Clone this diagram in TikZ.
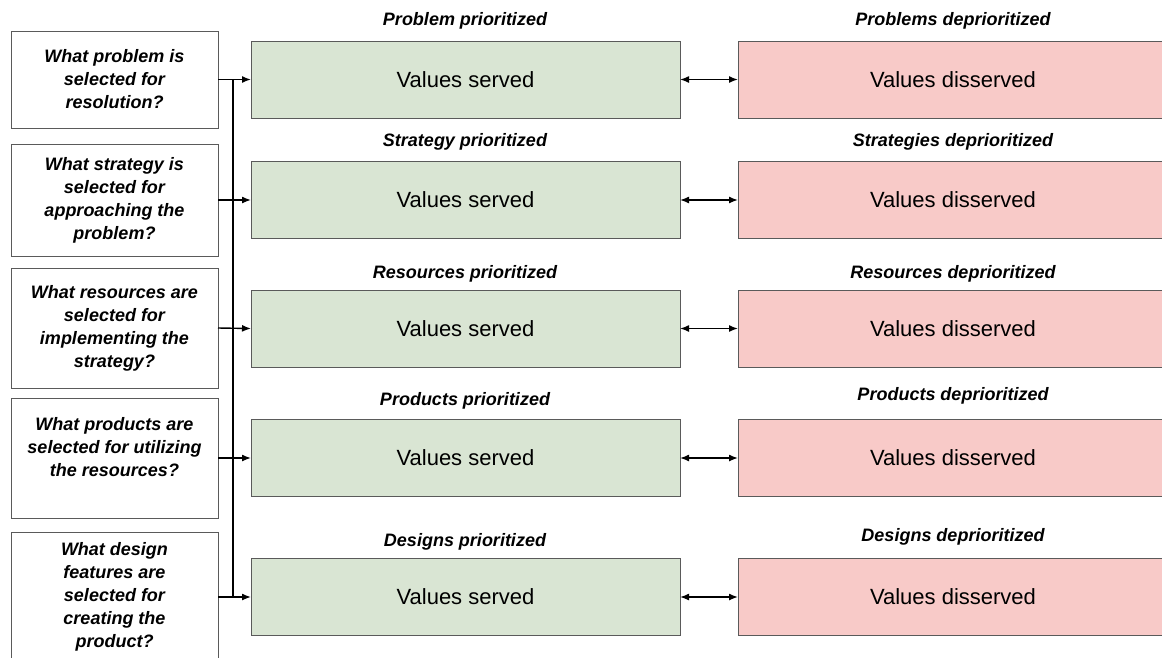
\documentclass[tikz,border=0pt]{standalone}
\usepackage{fontspec}
\setmainfont{Liberation Sans}
\usetikzlibrary{arrows.meta}
\definecolor{gfill}{HTML}{D9E5D3}
\definecolor{pfill}{HTML}{F8CAC8}
\definecolor{bord}{HTML}{5A5A5A}
\tikzset{
  qbox/.style={draw=bord, line width=0.9pt, fill=white, minimum width=207pt, inner sep=0pt, outer sep=0pt, align=center, font=\fontsize{18}{23}\selectfont\bfseries\itshape},
  gbox/.style={draw=bord, line width=0.9pt, fill=gfill, minimum width=429pt, minimum height=77pt, inner sep=0pt, outer sep=0pt, font=\fontsize{22}{26}\selectfont},
  pbox/.style={draw=bord, line width=0.9pt, fill=pfill, minimum width=430pt, minimum height=77pt, inner sep=0pt, outer sep=0pt, font=\fontsize{22}{26}\selectfont},
  ttl/.style={inner sep=0pt, font=\fontsize{18}{22}\selectfont\bfseries\itshape},
  conn/.style={line width=1.4pt, -{Latex[length=9pt,width=7pt]}},
  dconn/.style={line width=1.4pt, {Latex[length=9pt,width=7pt]}-{Latex[length=9pt,width=7pt]}},
  trunk/.style={line width=1.4pt}
}
\begin{document}
\begin{tikzpicture}[x=1pt,y=-1pt]
\useasboundingbox[fill=white] (0,0) rectangle (1162,657);
% question boxes
\node[qbox, minimum height=97pt] (q1) at (114.5,79.5) {What problem is\\selected for\\resolution?};
\node[qbox, minimum height=112pt] (q2) at (114.5,200) {What strategy is\\selected for\\approaching the\\problem?};
\node[qbox, minimum height=120pt] (q3) at (114.5,328) {What resources are\\selected for\\implementing the\\strategy?};
\node[qbox, minimum height=120pt] (q4) at (114.5,458) {What products are\\selected for utilizing\\the resources?\\\mbox{}};
\node[qbox, minimum height=130pt] (q5) at (114.5,597) {What design\\features are\\selected for\\creating the\\product?};
% green boxes
\node[gbox] (g1) at (465.5,79.5) {Values served};
\node[gbox] (g2) at (465.5,200) {Values served};
\node[gbox] (g3) at (465.5,328.5) {Values served};
\node[gbox] (g4) at (465.5,458) {Values served};
\node[gbox] (g5) at (465.5,597) {Values served};
% pink boxes
\node[pbox] (p1) at (953,79.5) {Values disserved};
\node[pbox] (p2) at (953,200) {Values disserved};
\node[pbox] (p3) at (953,328.5) {Values disserved};
\node[pbox] (p4) at (953,458) {Values disserved};
\node[pbox] (p5) at (953,597) {Values disserved};
% titles
\node[ttl] (tg1) at (465,21) {Problem prioritized};
\node[ttl] (tg2) at (465,142) {Strategy prioritized};
\node[ttl] (tg3) at (465,274) {Resources prioritized};
\node[ttl] (tg4) at (465,401) {Products prioritized};
\node[ttl] (tg5) at (465,542) {Designs prioritized};
\node[ttl] (tp1) at (953,21) {Problems deprioritized};
\node[ttl] (tp2) at (953,142) {Strategies deprioritized};
\node[ttl] (tp3) at (953,274) {Resources deprioritized};
\node[ttl] (tp4) at (953,396) {Products deprioritized};
\node[ttl] (tp5) at (953,537) {Designs deprioritized};
% trunk
\coordinate (ttop) at (233,79.5);
\coordinate (tbot) at (233,597);
\draw[trunk] (ttop) -- (tbot);
% connectors
\foreach \i in {1,...,5} {
  \draw[conn] (q\i.east) -- (g\i.west);
  \draw[dconn] (g\i.east) -- (p\i.west);
}
\end{tikzpicture}
\end{document}
